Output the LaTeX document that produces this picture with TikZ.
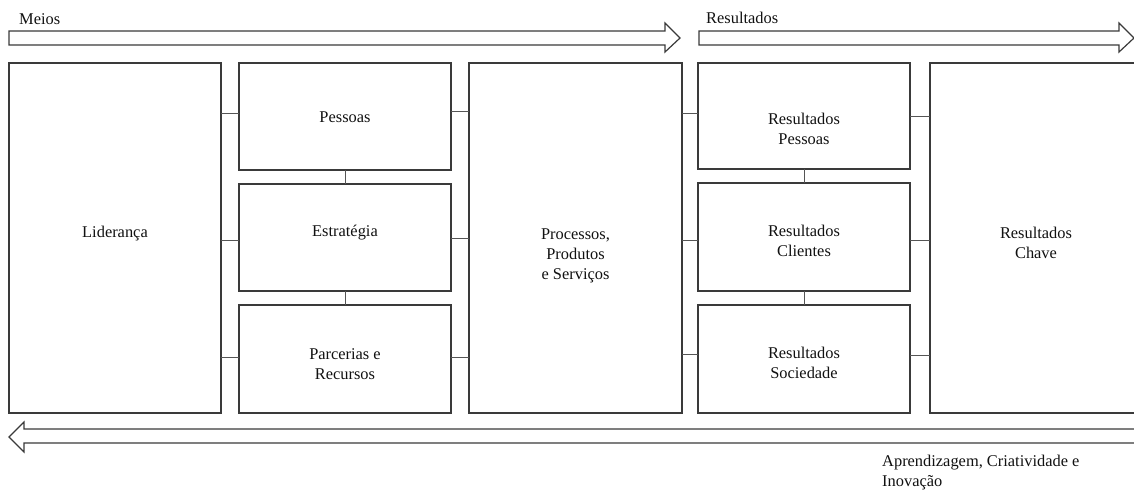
\documentclass[tikz,border=0pt]{standalone}
\usepackage{fontspec}
\setmainfont{Liberation Serif}
\newcommand\bodyfs{\fontsize{16.4}{20}\selectfont}
\definecolor{linegray}{HTML}{3A3A3A}
\definecolor{conngray}{HTML}{555555}
\definecolor{txtcol}{HTML}{111111}
\tikzset{
  box/.style={draw=linegray, line width=1.2pt, rectangle, anchor=north west,
    inner sep=0pt, outer sep=0pt, fill=white},
  txt/.style={font=\bodyfs, align=center, text=txtcol, inner sep=0pt},
  conn/.style={draw=conngray, line width=0.8pt},
  bigarrow/.style={draw=linegray, line width=1.2pt, fill=white, line join=miter},
  freetxt/.style={font=\bodyfs, text=txtcol, inner sep=0pt, align=left}
}
\begin{document}
\begin{tikzpicture}[x=1pt, y=-1pt]
\useasboundingbox (0,0) rectangle (1134,491);
\clip (0,0) rectangle (1134,491);

% big arrows
\draw[bigarrow] (9,31) -- (665,31) -- (665,23) -- (680,38) -- (665,52) -- (665,45) -- (9,45) -- cycle;
\draw[bigarrow] (699,31) -- (1119,31) -- (1119,23) -- (1134,38) -- (1119,52) -- (1119,45) -- (699,45) -- cycle;
\draw[bigarrow] (9,437) -- (24,422) -- (24,429) -- (1145,429) -- (1145,443) -- (24,443) -- (24,452) -- cycle;

% arrow labels
\node[freetxt, anchor=west] (meios) at (19,19) {Meios};
\node[freetxt, anchor=west] (resul) at (706,18) {Resultados};
\node[freetxt, anchor=west] (aprend) at (882,473) {Aprendizagem, Criatividade e\\Inovação};

% boxes
\node[box, minimum width=212pt, minimum height=350pt,
  label={[txt, yshift=4pt]center:Liderança}] (lid) at (9,63) {};
\node[box, minimum width=212pt, minimum height=107pt,
  label={[txt, yshift=-1pt]center:Pessoas}] (pes) at (239,63) {};
\node[box, minimum width=212pt, minimum height=107pt,
  label={[txt, yshift=5pt]center:Estratégia}] (est) at (239,184) {};
\node[box, minimum width=212pt, minimum height=108pt,
  label={[txt, yshift=-5pt]center:Parcerias e\\Recursos}] (par) at (239,305) {};
\node[box, minimum width=213pt, minimum height=350pt,
  label={[txt, yshift=-18pt]center:Processos,\\Produtos\\e Serviços}] (pro) at (469,63) {};
\node[box, minimum width=212pt, minimum height=106pt,
  label={[txt, yshift=-13pt]center:Resultados\\Pessoas}] (rp) at (698,63) {};
\node[box, minimum width=212pt, minimum height=108pt,
  label={[txt, yshift=-4pt]center:Resultados\\Clientes}] (rc) at (698,183) {};
\node[box, minimum width=212pt, minimum height=108pt,
  label={[txt, yshift=-4pt]center:Resultados\\Sociedade}] (rs) at (698,305) {};
\node[box, minimum width=212pt, minimum height=350pt,
  label={[txt, yshift=-5pt]center:Resultados\\Chave}] (ch) at (930,63) {};

% connectors
\draw[conn] (lid.east |- 0,113) -- (pes.west |- 0,113);
\draw[conn] (lid.east |- 0,240) -- (est.west |- 0,240);
\draw[conn] (lid.east |- 0,357) -- (par.west |- 0,357);
\draw[conn] (pes.east |- 0,111) -- (pro.west |- 0,111);
\draw[conn] (est.east |- 0,238) -- (pro.west |- 0,238);
\draw[conn] (par.east |- 0,357) -- (pro.west |- 0,357);
\draw[conn] (pes.south) -- (est.north);
\draw[conn] (est.south) -- (par.north);
\draw[conn] (pro.east |- 0,113) -- (rp.west |- 0,113);
\draw[conn] (pro.east |- 0,240) -- (rc.west |- 0,240);
\draw[conn] (pro.east |- 0,354) -- (rs.west |- 0,354);
\draw[conn] (rp.south) -- (rc.north);
\draw[conn] (rc.south) -- (rs.north);
\draw[conn] (rp.east |- 0,116) -- (ch.west |- 0,116);
\draw[conn] (rc.east |- 0,240) -- (ch.west |- 0,240);
\draw[conn] (rs.east |- 0,355) -- (ch.west |- 0,355);
\end{tikzpicture}
\end{document}
